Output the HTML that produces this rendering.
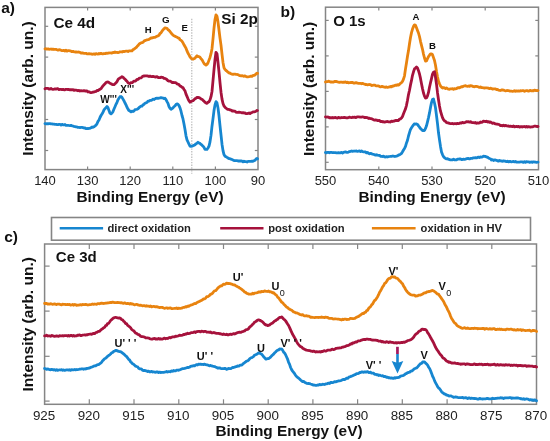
<!DOCTYPE html>
<html><head><meta charset="utf-8"><style>
html,body{margin:0;padding:0;background:#fff;}
svg{display:block;filter:blur(0.35px);}
text{font-family:"Liberation Sans", sans-serif;}
</style></head><body>
<svg width="550" height="441" viewBox="0 0 550 441">
<rect width="550" height="441" fill="#fff"/>
<rect x="45" y="7.4" width="213" height="162.2" fill="none" stroke="#858585" stroke-width="1.5"/><line x1="87.6" y1="169.6" x2="87.6" y2="166.4" stroke="#858585" stroke-width="1.2"/><line x1="87.6" y1="7.4" x2="87.6" y2="10.600000000000001" stroke="#858585" stroke-width="1.2"/><line x1="130.2" y1="169.6" x2="130.2" y2="166.4" stroke="#858585" stroke-width="1.2"/><line x1="130.2" y1="7.4" x2="130.2" y2="10.600000000000001" stroke="#858585" stroke-width="1.2"/><line x1="172.8" y1="169.6" x2="172.8" y2="166.4" stroke="#858585" stroke-width="1.2"/><line x1="172.8" y1="7.4" x2="172.8" y2="10.600000000000001" stroke="#858585" stroke-width="1.2"/><line x1="215.4" y1="169.6" x2="215.4" y2="166.4" stroke="#858585" stroke-width="1.2"/><line x1="215.4" y1="7.4" x2="215.4" y2="10.600000000000001" stroke="#858585" stroke-width="1.2"/><line x1="45" y1="26.3" x2="48.2" y2="26.3" stroke="#858585" stroke-width="1.2"/><line x1="258" y1="26.3" x2="254.8" y2="26.3" stroke="#858585" stroke-width="1.2"/><line x1="45" y1="57.1" x2="48.2" y2="57.1" stroke="#858585" stroke-width="1.2"/><line x1="258" y1="57.1" x2="254.8" y2="57.1" stroke="#858585" stroke-width="1.2"/><line x1="45" y1="88.3" x2="48.2" y2="88.3" stroke="#858585" stroke-width="1.2"/><line x1="258" y1="88.3" x2="254.8" y2="88.3" stroke="#858585" stroke-width="1.2"/><line x1="45" y1="119.5" x2="48.2" y2="119.5" stroke="#858585" stroke-width="1.2"/><line x1="258" y1="119.5" x2="254.8" y2="119.5" stroke="#858585" stroke-width="1.2"/><line x1="45" y1="150.5" x2="48.2" y2="150.5" stroke="#858585" stroke-width="1.2"/><line x1="258" y1="150.5" x2="254.8" y2="150.5" stroke="#858585" stroke-width="1.2"/><text x="45.0" y="185.3" font-size="13" font-weight="normal" text-anchor="middle" fill="#222" >140</text><text x="87.6" y="185.3" font-size="13" font-weight="normal" text-anchor="middle" fill="#222" >130</text><text x="130.2" y="185.3" font-size="13" font-weight="normal" text-anchor="middle" fill="#222" >120</text><text x="172.8" y="185.3" font-size="13" font-weight="normal" text-anchor="middle" fill="#222" >110</text><text x="215.4" y="185.3" font-size="13" font-weight="normal" text-anchor="middle" fill="#222" >100</text><text x="258.0" y="185.3" font-size="13" font-weight="normal" text-anchor="middle" fill="#222" >90</text><line x1="191.8" y1="18.8" x2="191.8" y2="173.8" stroke="#b4b4b4" stroke-width="1.1" stroke-dasharray="1.4,1.3"/><rect x="325.5" y="7.2" width="213.0" height="162.5" fill="none" stroke="#858585" stroke-width="1.5"/><line x1="378.8" y1="169.7" x2="378.8" y2="166.5" stroke="#858585" stroke-width="1.2"/><line x1="378.8" y1="7.2" x2="378.8" y2="10.4" stroke="#858585" stroke-width="1.2"/><line x1="432.0" y1="169.7" x2="432.0" y2="166.5" stroke="#858585" stroke-width="1.2"/><line x1="432.0" y1="7.2" x2="432.0" y2="10.4" stroke="#858585" stroke-width="1.2"/><line x1="485.2" y1="169.7" x2="485.2" y2="166.5" stroke="#858585" stroke-width="1.2"/><line x1="485.2" y1="7.2" x2="485.2" y2="10.4" stroke="#858585" stroke-width="1.2"/><line x1="325.5" y1="20.4" x2="328.7" y2="20.4" stroke="#858585" stroke-width="1.2"/><line x1="538.5" y1="20.4" x2="535.3" y2="20.4" stroke="#858585" stroke-width="1.2"/><line x1="325.5" y1="55.9" x2="328.7" y2="55.9" stroke="#858585" stroke-width="1.2"/><line x1="538.5" y1="55.9" x2="535.3" y2="55.9" stroke="#858585" stroke-width="1.2"/><line x1="325.5" y1="91.4" x2="328.7" y2="91.4" stroke="#858585" stroke-width="1.2"/><line x1="538.5" y1="91.4" x2="535.3" y2="91.4" stroke="#858585" stroke-width="1.2"/><line x1="325.5" y1="126.9" x2="328.7" y2="126.9" stroke="#858585" stroke-width="1.2"/><line x1="538.5" y1="126.9" x2="535.3" y2="126.9" stroke="#858585" stroke-width="1.2"/><line x1="325.5" y1="162.3" x2="328.7" y2="162.3" stroke="#858585" stroke-width="1.2"/><line x1="538.5" y1="162.3" x2="535.3" y2="162.3" stroke="#858585" stroke-width="1.2"/><text x="325.5" y="185.3" font-size="13" font-weight="normal" text-anchor="middle" fill="#222" >550</text><text x="378.75" y="185.3" font-size="13" font-weight="normal" text-anchor="middle" fill="#222" >540</text><text x="432.0" y="185.3" font-size="13" font-weight="normal" text-anchor="middle" fill="#222" >530</text><text x="485.25" y="185.3" font-size="13" font-weight="normal" text-anchor="middle" fill="#222" >520</text><text x="538.5" y="185.3" font-size="13" font-weight="normal" text-anchor="middle" fill="#222" >510</text><rect x="44.6" y="244" width="491.9" height="160.3" fill="none" stroke="#858585" stroke-width="1.5"/><line x1="89.3" y1="404.3" x2="89.3" y2="399.3" stroke="#858585" stroke-width="1.2"/><line x1="89.3" y1="244" x2="89.3" y2="249" stroke="#858585" stroke-width="1.2"/><line x1="134.0" y1="404.3" x2="134.0" y2="399.3" stroke="#858585" stroke-width="1.2"/><line x1="134.0" y1="244" x2="134.0" y2="249" stroke="#858585" stroke-width="1.2"/><line x1="178.8" y1="404.3" x2="178.8" y2="399.3" stroke="#858585" stroke-width="1.2"/><line x1="178.8" y1="244" x2="178.8" y2="249" stroke="#858585" stroke-width="1.2"/><line x1="223.5" y1="404.3" x2="223.5" y2="399.3" stroke="#858585" stroke-width="1.2"/><line x1="223.5" y1="244" x2="223.5" y2="249" stroke="#858585" stroke-width="1.2"/><line x1="268.2" y1="404.3" x2="268.2" y2="399.3" stroke="#858585" stroke-width="1.2"/><line x1="268.2" y1="244" x2="268.2" y2="249" stroke="#858585" stroke-width="1.2"/><line x1="312.9" y1="404.3" x2="312.9" y2="399.3" stroke="#858585" stroke-width="1.2"/><line x1="312.9" y1="244" x2="312.9" y2="249" stroke="#858585" stroke-width="1.2"/><line x1="357.6" y1="404.3" x2="357.6" y2="399.3" stroke="#858585" stroke-width="1.2"/><line x1="357.6" y1="244" x2="357.6" y2="249" stroke="#858585" stroke-width="1.2"/><line x1="402.3" y1="404.3" x2="402.3" y2="399.3" stroke="#858585" stroke-width="1.2"/><line x1="402.3" y1="244" x2="402.3" y2="249" stroke="#858585" stroke-width="1.2"/><line x1="447.1" y1="404.3" x2="447.1" y2="399.3" stroke="#858585" stroke-width="1.2"/><line x1="447.1" y1="244" x2="447.1" y2="249" stroke="#858585" stroke-width="1.2"/><line x1="491.8" y1="404.3" x2="491.8" y2="399.3" stroke="#858585" stroke-width="1.2"/><line x1="491.8" y1="244" x2="491.8" y2="249" stroke="#858585" stroke-width="1.2"/><line x1="44.6" y1="266.1" x2="49.6" y2="266.1" stroke="#858585" stroke-width="1.2"/><line x1="536.5" y1="266.1" x2="531.5" y2="266.1" stroke="#858585" stroke-width="1.2"/><line x1="44.6" y1="311.1" x2="49.6" y2="311.1" stroke="#858585" stroke-width="1.2"/><line x1="536.5" y1="311.1" x2="531.5" y2="311.1" stroke="#858585" stroke-width="1.2"/><line x1="44.6" y1="356.3" x2="49.6" y2="356.3" stroke="#858585" stroke-width="1.2"/><line x1="536.5" y1="356.3" x2="531.5" y2="356.3" stroke="#858585" stroke-width="1.2"/><line x1="44.6" y1="401.1" x2="49.6" y2="401.1" stroke="#858585" stroke-width="1.2"/><line x1="536.5" y1="401.1" x2="531.5" y2="401.1" stroke="#858585" stroke-width="1.2"/><text x="44.1" y="419.7" font-size="13.4" font-weight="normal" text-anchor="middle" fill="#222" >925</text><text x="88.81818181818181" y="419.7" font-size="13.4" font-weight="normal" text-anchor="middle" fill="#222" >920</text><text x="133.53636363636363" y="419.7" font-size="13.4" font-weight="normal" text-anchor="middle" fill="#222" >915</text><text x="178.25454545454545" y="419.7" font-size="13.4" font-weight="normal" text-anchor="middle" fill="#222" >910</text><text x="222.97272727272727" y="419.7" font-size="13.4" font-weight="normal" text-anchor="middle" fill="#222" >905</text><text x="267.6909090909091" y="419.7" font-size="13.4" font-weight="normal" text-anchor="middle" fill="#222" >900</text><text x="312.40909090909093" y="419.7" font-size="13.4" font-weight="normal" text-anchor="middle" fill="#222" >895</text><text x="357.1272727272727" y="419.7" font-size="13.4" font-weight="normal" text-anchor="middle" fill="#222" >890</text><text x="401.8454545454546" y="419.7" font-size="13.4" font-weight="normal" text-anchor="middle" fill="#222" >885</text><text x="446.56363636363636" y="419.7" font-size="13.4" font-weight="normal" text-anchor="middle" fill="#222" >880</text><text x="491.2818181818182" y="419.7" font-size="13.4" font-weight="normal" text-anchor="middle" fill="#222" >875</text><text x="536.0" y="419.7" font-size="13.4" font-weight="normal" text-anchor="middle" fill="#222" >870</text><rect x="51.5" y="217.5" width="479" height="22.7" fill="#fff" stroke="#858585" stroke-width="1.6"/><line x1="59.7" y1="228.3" x2="103.1" y2="228.3" stroke="#1686d0" stroke-width="2.6"/><text x="107.5" y="232.3" font-size="11.2" font-weight="bold" text-anchor="start" fill="#222" >direct oxidation</text><line x1="220.2" y1="228.3" x2="263.5" y2="228.3" stroke="#a6123c" stroke-width="2.6"/><text x="268.2" y="232.3" font-size="11.2" font-weight="bold" text-anchor="start" fill="#222" >post oxidation</text><line x1="371.9" y1="228.3" x2="415.6" y2="228.3" stroke="#e8830f" stroke-width="2.6"/><text x="420.6" y="232.3" font-size="11.2" font-weight="bold" text-anchor="start" fill="#222" >oxidation in HV</text><path d="M45.0 48.8L46.0 48.7L47.0 49.2L48.0 48.8L49.0 49.3L50.0 49.2L51.0 49.0L52.0 49.4L53.0 49.1L54.0 49.5L55.0 49.3L56.0 49.4L57.0 49.8L58.0 50.2L59.0 49.7L60.0 49.9L61.0 50.3L62.0 50.7L63.0 50.5L64.0 50.4L65.0 51.0L66.0 50.2L67.0 51.1L68.0 50.7L69.0 50.7L70.0 50.8L71.0 51.1L72.0 51.7L73.0 51.3L74.0 51.8L75.0 52.0L76.0 51.9L77.0 52.2L78.0 52.0L79.0 52.1L80.0 52.4L81.0 53.0L82.0 52.9L83.0 53.0L84.0 53.3L85.0 53.3L86.0 53.3L87.0 53.9L88.0 53.9L89.0 53.6L90.0 53.9L91.0 53.9L92.0 54.3L93.0 54.2L94.0 53.8L95.0 54.4L96.0 53.6L97.0 53.9L98.0 54.1L99.0 53.5L100.0 53.8L101.0 53.3L102.0 53.8L103.0 53.8L104.0 53.5L105.0 53.7L106.0 53.1L107.0 53.3L108.0 53.1L109.0 53.0L110.0 52.8L111.0 53.0L112.0 53.0L113.0 52.5L114.0 52.6L115.0 52.0L116.0 52.5L117.0 52.3L118.0 52.6L119.0 52.4L120.0 51.8L121.0 51.8L122.0 52.0L123.0 51.4L124.0 51.7L125.0 51.3L126.0 51.2L127.0 51.1L128.0 51.6L129.0 50.9L130.0 50.9L131.0 50.8L132.0 50.9L133.0 49.6L134.0 49.2L135.0 48.4L136.0 47.7L137.0 46.6L138.0 45.6L139.0 44.2L140.0 43.5L141.0 42.8L142.0 42.7L143.0 42.3L144.0 41.1L145.0 40.6L146.0 40.2L147.0 39.8L148.0 39.6L149.0 39.3L150.0 38.6L151.0 38.0L152.0 38.0L153.0 37.6L154.0 37.4L155.0 37.4L156.0 36.8L157.0 36.3L158.0 35.9L159.0 35.3L160.0 33.5L161.0 32.8L162.0 31.2L163.0 29.9L164.0 28.8L165.0 27.9L166.0 28.1L167.0 28.3L168.0 29.7L169.0 30.3L170.0 31.5L171.0 32.8L172.0 34.0L173.0 35.1L174.0 35.7L175.0 36.2L176.0 36.8L177.0 37.2L178.0 37.9L179.0 38.1L180.0 39.6L181.0 40.3L182.0 41.2L183.0 42.9L184.0 44.8L185.0 46.6L186.0 48.2L187.0 50.9L188.0 53.2L189.0 54.9L190.0 56.9L191.0 58.1L192.0 59.0L193.0 59.2L194.0 58.6L195.0 58.2L196.0 56.7L197.0 55.8L198.0 56.5L199.0 56.6L200.0 57.2L201.0 58.7L202.0 59.7L203.0 61.6L204.0 63.4L205.0 64.4L206.0 65.1L207.0 64.4L208.0 62.9L209.0 60.1L210.0 57.4L211.0 53.7L212.0 48.7L213.0 38.9L214.0 28.2L215.0 19.5L216.0 14.9L217.0 16.3L218.0 22.1L219.0 30.0L220.0 38.1L221.0 45.1L222.0 54.1L223.0 62.4L224.0 67.8L225.0 69.4L226.0 70.5L227.0 71.2L228.0 72.2L229.0 73.0L230.0 73.0L231.0 73.8L232.0 74.2L233.0 74.4L234.0 74.1L235.0 74.1L236.0 74.3L237.0 74.5L238.0 74.6L239.0 75.2L240.0 75.7L241.0 75.8L242.0 75.7L243.0 76.0L244.0 76.3L245.0 75.8L246.0 76.5L247.0 76.8L248.0 76.8L249.0 76.7L250.0 76.5L251.0 76.1L252.0 76.3L253.0 75.5L254.0 75.4L255.0 75.0L256.0 73.9L257.0 73.2L257.5 73.4" fill="none" stroke="#e8830f" stroke-width="2.8" stroke-linejoin="round" stroke-linecap="round"/><path d="M45.0 88.8L46.0 88.3L47.0 88.3L48.0 88.4L49.0 89.1L50.0 89.0L51.0 88.5L52.0 89.1L53.0 89.3L54.0 89.1L55.0 88.8L56.0 89.1L57.0 88.7L58.0 88.7L59.0 89.6L60.0 89.4L61.0 89.3L62.0 89.7L63.0 89.3L64.0 89.8L65.0 89.8L66.0 89.3L67.0 89.4L68.0 89.5L69.0 89.5L70.0 89.9L71.0 89.6L72.0 89.9L73.0 89.7L74.0 90.4L75.0 90.0L76.0 90.2L77.0 90.4L78.0 90.8L79.0 90.4L80.0 91.0L81.0 90.7L82.0 90.8L83.0 90.9L84.0 90.6L85.0 91.0L86.0 90.9L87.0 91.0L88.0 92.0L89.0 91.8L90.0 92.3L91.0 92.6L92.0 92.4L93.0 92.1L94.0 92.0L95.0 91.7L96.0 91.5L97.0 90.5L98.0 90.5L99.0 89.8L100.0 89.2L101.0 88.6L102.0 87.2L103.0 85.9L104.0 84.8L105.0 83.8L106.0 82.5L107.0 82.1L108.0 82.0L109.0 82.5L110.0 83.3L111.0 83.7L112.0 84.3L113.0 84.6L114.0 84.7L115.0 83.8L116.0 82.8L117.0 81.6L118.0 79.6L119.0 78.6L120.0 78.0L121.0 77.4L122.0 76.7L123.0 77.2L124.0 78.4L125.0 79.1L126.0 80.4L127.0 81.3L128.0 82.8L129.0 83.4L130.0 83.6L131.0 82.6L132.0 82.7L133.0 82.1L134.0 81.1L135.0 81.2L136.0 80.6L137.0 79.3L138.0 79.4L139.0 78.4L140.0 78.0L141.0 77.8L142.0 77.1L143.0 76.1L144.0 76.0L145.0 75.9L146.0 75.8L147.0 75.8L148.0 76.1L149.0 76.6L150.0 76.1L151.0 76.6L152.0 76.6L153.0 76.3L154.0 76.7L155.0 77.0L156.0 77.0L157.0 76.6L158.0 77.5L159.0 77.5L160.0 77.7L161.0 77.1L162.0 77.4L163.0 77.4L164.0 78.4L165.0 78.4L166.0 78.9L167.0 79.7L168.0 80.8L169.0 81.2L170.0 81.2L171.0 81.5L172.0 82.5L173.0 82.4L174.0 82.7L175.0 82.5L176.0 82.8L177.0 83.9L178.0 84.2L179.0 84.6L180.0 86.0L181.0 86.4L182.0 87.3L183.0 87.6L184.0 89.5L185.0 90.8L186.0 94.1L187.0 96.4L188.0 98.8L189.0 100.8L190.0 102.2L191.0 101.5L192.0 101.0L193.0 100.7L194.0 99.7L195.0 98.8L196.0 98.2L197.0 97.5L198.0 97.4L199.0 97.6L200.0 98.0L201.0 99.0L202.0 99.3L203.0 100.3L204.0 101.1L205.0 102.3L206.0 102.9L207.0 103.4L208.0 102.3L209.0 101.7L210.0 99.9L211.0 96.7L212.0 91.5L213.0 80.7L214.0 69.6L215.0 59.7L216.0 52.3L217.0 53.7L218.0 62.5L219.0 71.8L220.0 82.6L221.0 92.2L222.0 99.1L223.0 103.5L224.0 106.0L225.0 107.2L226.0 108.2L227.0 108.9L228.0 109.4L229.0 109.4L230.0 109.9L231.0 110.1L232.0 111.1L233.0 110.9L234.0 111.1L235.0 111.2L236.0 112.1L237.0 112.3L238.0 112.3L239.0 112.1L240.0 112.3L241.0 112.5L242.0 112.8L243.0 112.6L244.0 113.0L245.0 112.9L246.0 113.6L247.0 113.7L248.0 113.3L249.0 113.0L250.0 113.6L251.0 112.8L252.0 112.5L253.0 111.9L254.0 111.9L255.0 111.6L256.0 111.2L257.0 110.5L257.5 110.6" fill="none" stroke="#a6123c" stroke-width="2.8" stroke-linejoin="round" stroke-linecap="round"/><path d="M45.0 123.6L46.0 123.8L47.0 123.6L48.0 123.9L49.0 123.6L50.0 123.6L51.0 123.9L52.0 123.8L53.0 124.2L54.0 124.2L55.0 124.4L56.0 124.4L57.0 124.5L58.0 124.7L59.0 124.3L60.0 124.4L61.0 125.0L62.0 124.3L63.0 124.9L64.0 124.9L65.0 124.5L66.0 125.3L67.0 125.4L68.0 125.3L69.0 125.5L70.0 125.7L71.0 125.3L72.0 125.8L73.0 126.0L74.0 126.5L75.0 126.7L76.0 126.9L77.0 126.9L78.0 127.4L79.0 127.4L80.0 127.6L81.0 127.4L82.0 127.4L83.0 127.6L84.0 128.0L85.0 127.9L86.0 128.7L87.0 128.5L88.0 128.6L89.0 128.4L90.0 128.3L91.0 127.8L92.0 127.0L93.0 127.3L94.0 126.8L95.0 126.0L96.0 125.1L97.0 123.8L98.0 121.4L99.0 120.0L100.0 117.5L101.0 115.5L102.0 113.9L103.0 112.3L104.0 109.9L105.0 108.7L106.0 107.6L107.0 106.5L108.0 107.7L109.0 110.6L110.0 113.2L111.0 113.9L112.0 113.0L113.0 111.6L114.0 109.0L115.0 106.7L116.0 104.3L117.0 102.3L118.0 99.7L119.0 98.2L120.0 96.7L121.0 96.5L122.0 97.4L123.0 99.1L124.0 100.9L125.0 103.0L126.0 104.9L127.0 107.3L128.0 109.1L129.0 110.6L130.0 111.1L131.0 111.9L132.0 111.1L133.0 111.5L134.0 111.0L135.0 109.7L136.0 109.5L137.0 109.3L138.0 108.8L139.0 107.7L140.0 106.9L141.0 106.2L142.0 106.2L143.0 104.8L144.0 104.4L145.0 103.2L146.0 102.8L147.0 102.5L148.0 101.1L149.0 101.1L150.0 100.4L151.0 100.4L152.0 99.9L153.0 99.2L154.0 99.5L155.0 98.9L156.0 98.3L157.0 98.1L158.0 98.3L159.0 98.1L160.0 97.9L161.0 97.6L162.0 97.8L163.0 98.0L164.0 98.7L165.0 98.2L166.0 99.6L167.0 101.6L168.0 103.4L169.0 106.6L170.0 108.3L171.0 109.3L172.0 108.6L173.0 107.8L174.0 106.6L175.0 105.9L176.0 104.5L177.0 103.8L178.0 104.2L179.0 105.6L180.0 107.9L181.0 111.2L182.0 115.5L183.0 118.9L184.0 123.9L185.0 129.6L186.0 135.8L187.0 139.8L188.0 142.0L189.0 144.2L190.0 146.1L191.0 146.4L192.0 146.2L193.0 145.7L194.0 145.4L195.0 144.8L196.0 143.7L197.0 143.3L198.0 142.3L199.0 143.0L200.0 143.4L201.0 144.4L202.0 145.2L203.0 146.2L204.0 147.4L205.0 149.4L206.0 149.4L207.0 149.3L208.0 148.0L209.0 146.1L210.0 141.9L211.0 135.4L212.0 126.2L213.0 118.6L214.0 110.6L215.0 104.9L216.0 101.6L217.0 102.9L218.0 107.9L219.0 115.8L220.0 125.7L221.0 134.8L222.0 144.2L223.0 150.6L224.0 154.6L225.0 156.2L226.0 156.7L227.0 157.4L228.0 158.0L229.0 158.7L230.0 158.7L231.0 159.2L232.0 159.5L233.0 160.1L234.0 160.6L235.0 160.7L236.0 160.6L237.0 160.7L238.0 161.0L239.0 161.0L240.0 161.0L241.0 160.9L242.0 161.2L243.0 161.9L244.0 161.2L245.0 161.6L246.0 161.7L247.0 162.0L248.0 161.4L249.0 161.4L250.0 161.4L251.0 161.4L252.0 161.2L253.0 161.3L254.0 160.8L255.0 160.3L256.0 159.0L257.0 158.4L257.5 158.8" fill="none" stroke="#1686d0" stroke-width="2.8" stroke-linejoin="round" stroke-linecap="round"/><path d="M325.5 82.0L326.5 81.6L327.5 81.7L328.5 81.2L329.5 81.5L330.5 82.0L331.5 82.0L332.5 82.0L333.5 82.2L334.5 81.5L335.5 81.5L336.5 81.5L337.5 81.9L338.5 82.1L339.5 82.4L340.5 82.2L341.5 82.2L342.5 82.4L343.5 82.2L344.5 82.3L345.5 81.9L346.5 82.6L347.5 82.2L348.5 82.9L349.5 82.7L350.5 82.5L351.5 82.4L352.5 82.5L353.5 83.0L354.5 83.1L355.5 82.7L356.5 82.7L357.5 83.2L358.5 83.4L359.5 83.3L360.5 83.3L361.5 83.8L362.5 83.4L363.5 83.8L364.5 84.0L365.5 84.6L366.5 84.5L367.5 84.8L368.5 84.6L369.5 84.5L370.5 84.7L371.5 85.5L372.5 85.4L373.5 85.2L374.5 85.1L375.5 85.6L376.5 85.9L377.5 85.9L378.5 85.9L379.5 86.5L380.5 86.9L381.5 86.4L382.5 86.4L383.5 86.9L384.5 87.1L385.5 87.3L386.5 86.9L387.5 87.4L388.5 87.2L389.5 86.9L390.5 86.4L391.5 86.9L392.5 86.0L393.5 86.2L394.5 85.5L395.5 85.2L396.5 85.4L397.5 84.7L398.5 85.1L399.5 84.3L400.5 83.3L401.5 82.6L402.5 81.4L403.5 79.2L404.5 75.8L405.5 68.9L406.5 62.8L407.5 56.3L408.5 50.6L409.5 43.7L410.5 37.5L411.5 32.6L412.5 29.1L413.5 26.4L414.5 24.9L415.5 25.3L416.5 27.7L417.5 30.4L418.5 33.0L419.5 36.6L420.5 41.3L421.5 45.3L422.5 49.3L423.5 54.1L424.5 58.0L425.5 61.1L426.5 60.9L427.5 58.7L428.5 56.6L429.5 55.2L430.5 53.9L431.5 53.9L432.5 54.7L433.5 57.6L434.5 60.5L435.5 65.2L436.5 71.5L437.5 76.8L438.5 81.2L439.5 83.7L440.5 86.0L441.5 87.1L442.5 88.0L443.5 87.6L444.5 87.9L445.5 88.6L446.5 88.0L447.5 88.6L448.5 89.2L449.5 89.3L450.5 88.8L451.5 88.8L452.5 88.7L453.5 89.4L454.5 88.6L455.5 88.8L456.5 88.7L457.5 87.9L458.5 87.6L459.5 87.9L460.5 87.3L461.5 86.7L462.5 86.8L463.5 86.2L464.5 86.0L465.5 85.6L466.5 86.2L467.5 86.3L468.5 86.0L469.5 86.4L470.5 85.6L471.5 85.9L472.5 86.2L473.5 86.7L474.5 86.8L475.5 86.4L476.5 86.4L477.5 86.7L478.5 86.9L479.5 87.4L480.5 86.9L481.5 87.6L482.5 87.7L483.5 87.9L484.5 88.0L485.5 87.9L486.5 87.8L487.5 88.0L488.5 88.1L489.5 88.7L490.5 88.2L491.5 88.5L492.5 89.1L493.5 88.8L494.5 88.8L495.5 88.9L496.5 89.6L497.5 89.5L498.5 90.2L499.5 90.3L500.5 90.5L501.5 90.0L502.5 89.9L503.5 90.1L504.5 90.5L505.5 90.8L506.5 90.6L507.5 90.5L508.5 90.7L509.5 91.0L510.5 91.1L511.5 91.2L512.5 91.3L513.5 91.1L514.5 90.7L515.5 91.3L516.5 90.8L517.5 91.1L518.5 90.9L519.5 91.2L520.5 90.7L521.5 90.8L522.5 90.7L523.5 90.6L524.5 91.3L525.5 90.9L526.5 90.7L527.5 90.7L528.5 91.2L529.5 90.7L530.5 90.4L531.5 90.9L532.5 90.7L533.5 90.9L534.5 90.1L535.5 90.3L536.5 90.6L537.5 90.5L538.0 90.6" fill="none" stroke="#e8830f" stroke-width="2.8" stroke-linejoin="round" stroke-linecap="round"/><path d="M325.5 116.9L326.5 117.2L327.5 117.0L328.5 117.1L329.5 117.9L330.5 117.6L331.5 117.9L332.5 117.5L333.5 117.9L334.5 117.6L335.5 117.4L336.5 117.9L337.5 118.1L338.5 117.4L339.5 117.8L340.5 117.9L341.5 117.5L342.5 117.7L343.5 117.5L344.5 117.5L345.5 117.6L346.5 117.9L347.5 117.9L348.5 117.5L349.5 117.2L350.5 117.5L351.5 117.7L352.5 117.2L353.5 117.3L354.5 117.1L355.5 117.6L356.5 117.3L357.5 116.8L358.5 116.8L359.5 117.0L360.5 117.1L361.5 117.2L362.5 116.8L363.5 117.0L364.5 117.6L365.5 117.4L366.5 117.5L367.5 117.7L368.5 118.5L369.5 118.2L370.5 118.7L371.5 118.7L372.5 119.1L373.5 119.7L374.5 120.1L375.5 119.8L376.5 120.0L377.5 120.7L378.5 120.5L379.5 120.5L380.5 121.6L381.5 121.3L382.5 121.9L383.5 121.6L384.5 122.2L385.5 121.9L386.5 121.6L387.5 121.5L388.5 121.9L389.5 121.9L390.5 122.0L391.5 121.1L392.5 121.5L393.5 121.1L394.5 121.0L395.5 120.5L396.5 120.5L397.5 120.5L398.5 120.5L399.5 119.1L400.5 118.8L401.5 118.0L402.5 116.4L403.5 113.7L404.5 111.3L405.5 108.9L406.5 105.3L407.5 100.3L408.5 94.6L409.5 90.3L410.5 84.9L411.5 80.4L412.5 75.3L413.5 71.8L414.5 68.9L415.5 68.0L416.5 67.0L417.5 68.0L418.5 70.7L419.5 74.0L420.5 78.4L421.5 83.7L422.5 88.6L423.5 93.0L424.5 96.1L425.5 98.0L426.5 97.9L427.5 95.8L428.5 92.4L429.5 87.2L430.5 82.7L431.5 78.6L432.5 74.1L433.5 72.2L434.5 71.7L435.5 77.3L436.5 84.2L437.5 92.7L438.5 99.8L439.5 106.0L440.5 111.2L441.5 114.5L442.5 117.6L443.5 119.7L444.5 120.9L445.5 121.3L446.5 122.5L447.5 122.9L448.5 122.8L449.5 123.5L450.5 123.7L451.5 123.6L452.5 123.5L453.5 123.8L454.5 123.6L455.5 123.6L456.5 123.8L457.5 123.4L458.5 123.6L459.5 123.4L460.5 122.8L461.5 123.1L462.5 122.4L463.5 122.8L464.5 122.6L465.5 122.2L466.5 121.6L467.5 121.9L468.5 121.7L469.5 122.2L470.5 121.6L471.5 122.4L472.5 122.7L473.5 122.7L474.5 122.9L475.5 122.5L476.5 123.3L477.5 122.9L478.5 123.2L479.5 122.9L480.5 122.0L481.5 122.3L482.5 122.1L483.5 121.1L484.5 121.3L485.5 121.6L486.5 121.2L487.5 122.0L488.5 121.6L489.5 122.4L490.5 122.0L491.5 122.6L492.5 123.3L493.5 123.0L494.5 123.4L495.5 123.9L496.5 124.1L497.5 124.1L498.5 124.5L499.5 124.7L500.5 125.6L501.5 125.5L502.5 125.8L503.5 125.2L504.5 125.9L505.5 125.4L506.5 125.8L507.5 126.0L508.5 125.9L509.5 126.4L510.5 126.2L511.5 126.3L512.5 126.6L513.5 126.0L514.5 126.9L515.5 126.6L516.5 126.4L517.5 126.8L518.5 126.4L519.5 127.1L520.5 126.7L521.5 126.6L522.5 127.0L523.5 126.7L524.5 126.5L525.5 127.0L526.5 126.4L527.5 127.1L528.5 126.6L529.5 126.9L530.5 127.2L531.5 126.8L532.5 126.9L533.5 126.5L534.5 126.2L535.5 126.2L536.5 126.3L537.5 126.6L538.0 126.4" fill="none" stroke="#a6123c" stroke-width="2.8" stroke-linejoin="round" stroke-linecap="round"/><path d="M325.5 152.5L326.5 152.9L327.5 152.3L328.5 152.4L329.5 152.8L330.5 152.3L331.5 152.3L332.5 152.7L333.5 152.5L334.5 152.7L335.5 152.6L336.5 152.9L337.5 152.9L338.5 152.6L339.5 152.9L340.5 152.8L341.5 152.4L342.5 153.0L343.5 152.3L344.5 152.1L345.5 151.9L346.5 152.3L347.5 152.3L348.5 152.1L349.5 151.6L350.5 151.3L351.5 151.0L352.5 151.4L353.5 151.2L354.5 151.0L355.5 151.2L356.5 150.9L357.5 151.4L358.5 151.2L359.5 150.9L360.5 151.6L361.5 151.0L362.5 151.7L363.5 151.8L364.5 151.9L365.5 152.0L366.5 152.9L367.5 152.5L368.5 153.2L369.5 153.8L370.5 153.3L371.5 153.6L372.5 154.2L373.5 154.3L374.5 154.7L375.5 155.1L376.5 154.7L377.5 155.1L378.5 155.3L379.5 155.3L380.5 156.3L381.5 156.4L382.5 156.5L383.5 156.1L384.5 156.9L385.5 157.0L386.5 156.7L387.5 157.0L388.5 156.7L389.5 156.5L390.5 156.3L391.5 156.3L392.5 156.0L393.5 156.2L394.5 156.5L395.5 156.3L396.5 156.2L397.5 155.8L398.5 155.0L399.5 154.9L400.5 154.2L401.5 153.4L402.5 151.8L403.5 150.0L404.5 148.4L405.5 146.4L406.5 142.9L407.5 140.2L408.5 136.0L409.5 132.6L410.5 129.4L411.5 127.8L412.5 126.3L413.5 124.9L414.5 123.8L415.5 124.2L416.5 123.9L417.5 124.4L418.5 125.9L419.5 127.1L420.5 128.6L421.5 129.6L422.5 130.6L423.5 130.5L424.5 130.5L425.5 128.4L426.5 125.8L427.5 121.8L428.5 117.6L429.5 112.9L430.5 107.6L431.5 102.6L432.5 99.5L433.5 99.0L434.5 103.0L435.5 107.8L436.5 115.6L437.5 123.6L438.5 132.8L439.5 139.9L440.5 146.4L441.5 151.9L442.5 154.6L443.5 156.6L444.5 157.7L445.5 158.5L446.5 158.9L447.5 158.6L448.5 159.4L449.5 159.4L450.5 159.9L451.5 159.9L452.5 159.9L453.5 159.2L454.5 159.8L455.5 159.9L456.5 159.9L457.5 159.1L458.5 159.1L459.5 159.0L460.5 158.9L461.5 159.5L462.5 159.5L463.5 159.2L464.5 159.4L465.5 159.1L466.5 158.7L467.5 158.5L468.5 158.4L469.5 158.9L470.5 158.4L471.5 158.4L472.5 158.3L473.5 157.8L474.5 157.9L475.5 157.7L476.5 157.9L477.5 157.4L478.5 157.1L479.5 157.5L480.5 156.9L481.5 157.1L482.5 156.8L483.5 156.1L484.5 156.4L485.5 156.5L486.5 157.0L487.5 157.1L488.5 158.0L489.5 158.5L490.5 158.8L491.5 160.0L492.5 159.7L493.5 160.5L494.5 160.0L495.5 160.0L496.5 160.3L497.5 160.9L498.5 161.2L499.5 160.4L500.5 160.9L501.5 161.0L502.5 161.3L503.5 160.9L504.5 161.2L505.5 161.2L506.5 161.7L507.5 161.2L508.5 161.9L509.5 161.4L510.5 161.4L511.5 161.9L512.5 161.7L513.5 161.4L514.5 161.9L515.5 161.5L516.5 162.2L517.5 162.1L518.5 162.2L519.5 162.1L520.5 161.9L521.5 161.9L522.5 161.9L523.5 162.4L524.5 161.7L525.5 162.4L526.5 161.6L527.5 161.8L528.5 161.8L529.5 162.4L530.5 162.1L531.5 162.0L532.5 162.4L533.5 161.8L534.5 162.0L535.5 162.1L536.5 162.3L537.5 162.2L538.0 162.1" fill="none" stroke="#1686d0" stroke-width="2.8" stroke-linejoin="round" stroke-linecap="round"/><path d="M44.6 303.5L45.6 303.5L46.6 303.4L47.6 304.1L48.6 304.0L49.6 304.1L50.6 303.7L51.6 304.0L52.6 304.3L53.6 304.2L54.6 303.8L55.6 304.2L56.6 304.6L57.6 304.1L58.6 304.1L59.6 304.2L60.6 304.6L61.6 304.8L62.6 304.2L63.6 304.3L64.6 304.4L65.6 304.5L66.6 304.7L67.6 304.4L68.6 304.6L69.6 304.5L70.6 305.2L71.6 305.0L72.6 304.5L73.6 305.2L74.6 304.5L75.6 304.7L76.6 305.3L77.6 305.1L78.6 305.1L79.6 304.8L80.6 304.6L81.6 305.0L82.6 304.5L83.6 304.6L84.6 304.7L85.6 304.4L86.6 304.7L87.6 305.0L88.6 304.8L89.6 304.6L90.6 304.6L91.6 304.4L92.6 304.0L93.6 304.3L94.6 304.0L95.6 304.2L96.6 304.3L97.6 303.7L98.6 303.7L99.6 303.8L100.6 303.4L101.6 303.1L102.6 303.4L103.6 303.5L104.6 303.3L105.6 303.1L106.6 303.2L107.6 302.9L108.6 302.8L109.6 302.6L110.6 302.4L111.6 302.6L112.6 302.1L113.6 302.4L114.6 302.7L115.6 302.7L116.6 302.6L117.6 302.3L118.6 302.6L119.6 302.6L120.6 302.9L121.6 302.7L122.6 303.1L123.6 303.4L124.6 302.8L125.6 303.4L126.6 303.6L127.6 303.3L128.6 303.6L129.6 304.1L130.6 303.4L131.6 304.0L132.6 303.8L133.6 304.5L134.6 304.8L135.6 304.5L136.6 304.3L137.6 304.9L138.6 305.0L139.6 305.3L140.6 305.2L141.6 305.5L142.6 305.8L143.6 305.6L144.6 305.6L145.6 306.2L146.6 305.7L147.6 306.2L148.6 306.1L149.6 306.5L150.6 306.0L151.6 306.9L152.6 306.5L153.6 306.3L154.6 306.6L155.6 306.9L156.6 306.6L157.6 307.1L158.6 307.2L159.6 307.6L160.6 307.4L161.6 307.4L162.6 307.5L163.6 308.0L164.6 308.3L165.6 308.0L166.6 307.8L167.6 308.4L168.6 308.2L169.6 308.0L170.6 308.0L171.6 308.6L172.6 308.7L173.6 308.5L174.6 308.3L175.6 308.4L176.6 308.0L177.6 308.7L178.6 308.1L179.6 308.3L180.6 308.3L181.6 308.2L182.6 307.7L183.6 307.3L184.6 307.3L185.6 306.6L186.6 307.0L187.6 306.2L188.6 306.4L189.6 305.5L190.6 305.3L191.6 304.8L192.6 304.6L193.6 304.0L194.6 303.5L195.6 303.7L196.6 302.8L197.6 302.3L198.6 301.8L199.6 301.4L200.6 300.8L201.6 300.4L202.6 299.8L203.6 298.9L204.6 298.8L205.6 298.1L206.6 296.7L207.6 296.7L208.6 296.1L209.6 295.4L210.6 294.1L211.6 294.0L212.6 293.1L213.6 291.7L214.6 290.8L215.6 290.7L216.6 289.6L217.6 288.3L218.6 287.4L219.6 286.6L220.6 286.0L221.6 285.9L222.6 284.9L223.6 284.2L224.6 284.4L225.6 284.0L226.6 283.1L227.6 283.6L228.6 283.3L229.6 283.6L230.6 283.7L231.6 284.2L232.6 284.4L233.6 284.9L234.6 284.8L235.6 285.7L236.6 286.1L237.6 286.8L238.6 287.0L239.6 288.1L240.6 288.6L241.6 289.2L242.6 290.1L243.6 290.9L244.6 292.0L245.6 292.4L246.6 293.3L247.6 293.5L248.6 294.1L249.6 294.1L250.6 294.1L251.6 294.2L252.6 293.2L253.6 293.8L254.6 293.2L255.6 293.0L256.6 292.8L257.6 292.7L258.6 292.0L259.6 291.9L260.6 292.2L261.6 291.3L262.6 291.6L263.6 291.5L264.6 290.9L265.6 291.3L266.6 291.3L267.6 291.5L268.6 291.0L269.6 291.8L270.6 291.7L271.6 292.1L272.6 292.9L273.6 292.7L274.6 293.9L275.6 294.7L276.6 295.4L277.6 297.1L278.6 297.9L279.6 299.3L280.6 300.6L281.6 302.1L282.6 302.7L283.6 303.9L284.6 304.9L285.6 306.0L286.6 307.1L287.6 307.5L288.6 308.7L289.6 309.1L290.6 309.8L291.6 310.2L292.6 311.0L293.6 312.0L294.6 312.2L295.6 312.9L296.6 312.9L297.6 313.3L298.6 313.7L299.6 314.3L300.6 314.6L301.6 315.0L302.6 314.6L303.6 315.5L304.6 315.9L305.6 315.9L306.6 315.7L307.6 316.1L308.6 316.1L309.6 316.5L310.6 317.3L311.6 317.2L312.6 317.3L313.6 317.5L314.6 317.7L315.6 317.4L316.6 317.4L317.6 317.4L318.6 317.5L319.6 317.3L320.6 317.4L321.6 317.0L322.6 317.4L323.6 317.3L324.6 317.6L325.6 317.1L326.6 317.3L327.6 317.3L328.6 318.1L329.6 318.4L330.6 318.4L331.6 318.3L332.6 318.8L333.6 319.0L334.6 318.9L335.6 318.8L336.6 319.0L337.6 319.2L338.6 319.2L339.6 319.4L340.6 319.7L341.6 320.0L342.6 319.2L343.6 319.6L344.6 319.1L345.6 319.1L346.6 319.6L347.6 319.3L348.6 319.4L349.6 318.9L350.6 318.3L351.6 318.5L352.6 318.6L353.6 318.7L354.6 318.5L355.6 317.8L356.6 317.3L357.6 316.6L358.6 316.6L359.6 315.6L360.6 315.0L361.6 314.2L362.6 313.5L363.6 313.5L364.6 312.3L365.6 312.3L366.6 310.6L367.6 310.3L368.6 308.5L369.6 307.3L370.6 306.6L371.6 304.9L372.6 304.0L373.6 302.1L374.6 300.5L375.6 299.8L376.6 298.2L377.6 296.7L378.6 294.7L379.6 292.2L380.6 290.7L381.6 288.9L382.6 286.8L383.6 285.6L384.6 283.5L385.6 282.9L386.6 281.5L387.6 279.7L388.6 278.7L389.6 278.4L390.6 277.9L391.6 276.7L392.6 276.7L393.6 277.1L394.6 276.8L395.6 277.9L396.6 278.2L397.6 278.5L398.6 279.7L399.6 280.8L400.6 281.6L401.6 283.0L402.6 283.9L403.6 286.1L404.6 287.5L405.6 289.5L406.6 291.0L407.6 292.2L408.6 293.1L409.6 294.0L410.6 294.7L411.6 295.0L412.6 295.2L413.6 295.2L414.6 295.2L415.6 296.1L416.6 295.8L417.6 295.8L418.6 295.1L419.6 295.1L420.6 295.1L421.6 294.6L422.6 294.0L423.6 293.3L424.6 292.9L425.6 292.9L426.6 292.0L427.6 291.9L428.6 291.5L429.6 291.5L430.6 291.2L431.6 290.6L432.6 290.4L433.6 290.9L434.6 291.6L435.6 292.3L436.6 293.3L437.6 294.1L438.6 294.2L439.6 295.9L440.6 297.1L441.6 298.7L442.6 300.0L443.6 301.5L444.6 303.7L445.6 305.5L446.6 307.2L447.6 309.6L448.6 311.4L449.6 313.5L450.6 316.2L451.6 318.5L452.6 319.8L453.6 321.7L454.6 323.0L455.6 323.5L456.6 324.9L457.6 325.9L458.6 326.5L459.6 327.0L460.6 327.5L461.6 328.2L462.6 328.3L463.6 328.0L464.6 327.7L465.6 328.4L466.6 328.4L467.6 328.0L468.6 328.4L469.6 328.7L470.6 328.7L471.6 328.4L472.6 328.4L473.6 328.5L474.6 328.2L475.6 328.3L476.6 328.3L477.6 328.8L478.6 328.5L479.6 328.7L480.6 328.6L481.6 328.7L482.6 328.4L483.6 328.4L484.6 329.3L485.6 328.7L486.6 328.5L487.6 329.0L488.6 329.2L489.6 328.6L490.6 329.1L491.6 328.9L492.6 329.1L493.6 328.6L494.6 328.7L495.6 329.6L496.6 329.5L497.6 329.2L498.6 329.3L499.6 329.0L500.6 329.5L501.6 329.2L502.6 329.7L503.6 329.6L504.6 329.7L505.6 329.8L506.6 329.2L507.6 329.1L508.6 329.3L509.6 329.3L510.6 329.2L511.6 329.2L512.6 329.7L513.6 330.0L514.6 329.7L515.6 330.2L516.6 330.2L517.6 329.5L518.6 330.0L519.6 329.8L520.6 329.6L521.6 330.5L522.6 329.9L523.6 330.2L524.6 330.3L525.6 330.7L526.6 330.5L527.6 330.3L528.6 330.4L529.6 330.2L530.6 331.0L531.6 331.1L532.6 330.5L533.6 330.4L534.6 330.6L535.6 330.8L536.5 331.4" fill="none" stroke="#e8830f" stroke-width="2.8" stroke-linejoin="round" stroke-linecap="round"/><path d="M44.6 335.9L45.6 335.9L46.6 335.2L47.6 336.0L48.6 335.9L49.6 335.9L50.6 336.3L51.6 335.5L52.6 335.6L53.6 336.2L54.6 336.4L55.6 336.2L56.6 335.8L57.6 336.1L58.6 336.3L59.6 335.7L60.6 335.9L61.6 335.8L62.6 335.7L63.6 336.0L64.6 335.7L65.6 335.7L66.6 335.6L67.6 336.1L68.6 335.4L69.6 336.0L70.6 335.5L71.6 335.4L72.6 336.1L73.6 335.4L74.6 336.0L75.6 335.9L76.6 335.9L77.6 335.1L78.6 335.3L79.6 334.9L80.6 335.6L81.6 335.5L82.6 335.2L83.6 335.0L84.6 334.8L85.6 335.1L86.6 334.7L87.6 334.8L88.6 334.3L89.6 334.2L90.6 334.0L91.6 334.3L92.6 333.9L93.6 333.3L94.6 333.6L95.6 332.7L96.6 332.5L97.6 331.8L98.6 331.4L99.6 331.3L100.6 330.1L101.6 329.3L102.6 328.8L103.6 327.8L104.6 327.4L105.6 325.7L106.6 325.4L107.6 323.5L108.6 323.3L109.6 322.0L110.6 320.5L111.6 319.7L112.6 318.7L113.6 318.0L114.6 317.5L115.6 317.3L116.6 317.7L117.6 317.9L118.6 318.1L119.6 317.8L120.6 318.5L121.6 319.7L122.6 319.8L123.6 321.3L124.6 321.9L125.6 323.5L126.6 323.6L127.6 325.4L128.6 326.0L129.6 326.8L130.6 327.7L131.6 329.4L132.6 330.1L133.6 330.7L134.6 331.8L135.6 333.1L136.6 333.3L137.6 334.3L138.6 334.5L139.6 335.2L140.6 336.3L141.6 336.7L142.6 336.6L143.6 336.8L144.6 337.0L145.6 337.8L146.6 337.9L147.6 337.9L148.6 338.1L149.6 338.6L150.6 338.9L151.6 339.1L152.6 339.0L153.6 338.6L154.6 338.5L155.6 339.2L156.6 338.9L157.6 339.1L158.6 338.5L159.6 339.2L160.6 338.7L161.6 339.1L162.6 339.1L163.6 338.6L164.6 338.1L165.6 338.8L166.6 338.3L167.6 338.5L168.6 337.8L169.6 337.5L170.6 337.9L171.6 337.3L172.6 336.9L173.6 336.9L174.6 336.9L175.6 336.1L176.6 336.3L177.6 336.0L178.6 335.8L179.6 335.2L180.6 335.5L181.6 335.3L182.6 335.1L183.6 334.4L184.6 334.5L185.6 333.9L186.6 334.0L187.6 333.2L188.6 333.7L189.6 333.5L190.6 332.9L191.6 332.7L192.6 332.6L193.6 332.4L194.6 331.8L195.6 332.5L196.6 331.7L197.6 331.5L198.6 331.4L199.6 331.4L200.6 331.9L201.6 331.2L202.6 331.3L203.6 331.8L204.6 331.4L205.6 331.4L206.6 332.0L207.6 332.1L208.6 332.1L209.6 332.4L210.6 332.0L211.6 332.9L212.6 332.9L213.6 332.5L214.6 332.7L215.6 333.2L216.6 333.4L217.6 333.3L218.6 333.4L219.6 333.8L220.6 333.7L221.6 334.2L222.6 334.5L223.6 334.0L224.6 334.5L225.6 334.7L226.6 334.2L227.6 334.8L228.6 334.9L229.6 334.3L230.6 334.2L231.6 334.5L232.6 334.0L233.6 333.7L234.6 334.0L235.6 333.6L236.6 333.0L237.6 332.6L238.6 332.4L239.6 332.2L240.6 332.4L241.6 331.9L242.6 331.7L243.6 331.3L244.6 330.9L245.6 329.9L246.6 329.7L247.6 329.5L248.6 328.6L249.6 327.1L250.6 326.3L251.6 325.5L252.6 324.3L253.6 323.5L254.6 322.1L255.6 321.7L256.6 321.0L257.6 320.0L258.6 319.8L259.6 320.4L260.6 320.5L261.6 321.3L262.6 321.9L263.6 323.0L264.6 324.1L265.6 325.0L266.6 324.8L267.6 325.7L268.6 325.2L269.6 325.1L270.6 324.1L271.6 323.6L272.6 323.1L273.6 322.1L274.6 321.0L275.6 320.6L276.6 319.7L277.6 319.4L278.6 318.1L279.6 317.5L280.6 317.4L281.6 316.9L282.6 317.8L283.6 319.0L284.6 319.8L285.6 320.9L286.6 322.4L287.6 324.0L288.6 325.5L289.6 327.6L290.6 329.9L291.6 332.2L292.6 334.3L293.6 335.9L294.6 337.7L295.6 339.4L296.6 341.6L297.6 343.4L298.6 344.6L299.6 345.7L300.6 346.6L301.6 347.0L302.6 348.2L303.6 348.7L304.6 349.3L305.6 349.9L306.6 350.2L307.6 350.3L308.6 350.5L309.6 350.6L310.6 351.1L311.6 351.1L312.6 351.5L313.6 351.1L314.6 351.6L315.6 352.1L316.6 351.6L317.6 351.9L318.6 351.8L319.6 351.6L320.6 352.1L321.6 351.3L322.6 351.6L323.6 350.9L324.6 350.7L325.6 351.2L326.6 350.7L327.6 350.1L328.6 350.2L329.6 350.1L330.6 350.1L331.6 349.4L332.6 349.2L333.6 349.7L334.6 349.3L335.6 348.5L336.6 348.4L337.6 348.2L338.6 348.2L339.6 347.9L340.6 347.9L341.6 347.6L342.6 347.1L343.6 347.0L344.6 346.7L345.6 346.4L346.6 345.7L347.6 345.6L348.6 345.2L349.6 344.9L350.6 343.8L351.6 344.0L352.6 342.8L353.6 343.1L354.6 342.5L355.6 342.0L356.6 342.0L357.6 341.3L358.6 340.8L359.6 340.8L360.6 340.6L361.6 340.1L362.6 339.7L363.6 339.5L364.6 339.4L365.6 339.5L366.6 339.1L367.6 339.2L368.6 339.4L369.6 339.3L370.6 339.4L371.6 339.9L372.6 340.2L373.6 340.0L374.6 340.2L375.6 340.1L376.6 340.4L377.6 340.5L378.6 341.1L379.6 341.2L380.6 341.0L381.6 341.9L382.6 341.4L383.6 342.0L384.6 342.1L385.6 342.3L386.6 341.7L387.6 342.0L388.6 342.5L389.6 341.8L390.6 341.9L391.6 342.4L392.6 342.4L393.6 342.8L394.6 342.8L395.6 342.6L396.6 343.1L397.6 342.7L398.6 342.7L399.6 342.9L400.6 342.6L401.6 342.4L402.6 342.5L403.6 342.1L404.6 342.4L405.6 341.8L406.6 341.4L407.6 340.7L408.6 340.5L409.6 340.2L410.6 339.8L411.6 339.1L412.6 338.3L413.6 337.3L414.6 335.6L415.6 334.4L416.6 333.6L417.6 333.0L418.6 331.6L419.6 331.0L420.6 330.6L421.6 329.4L422.6 329.1L423.6 329.5L424.6 329.4L425.6 329.7L426.6 330.5L427.6 332.6L428.6 333.9L429.6 335.6L430.6 337.5L431.6 339.3L432.6 341.0L433.6 342.9L434.6 345.1L435.6 347.3L436.6 349.1L437.6 350.5L438.6 351.9L439.6 353.5L440.6 354.8L441.6 355.8L442.6 357.5L443.6 358.3L444.6 358.8L445.6 360.0L446.6 361.2L447.6 361.4L448.6 362.3L449.6 362.0L450.6 362.5L451.6 363.1L452.6 363.0L453.6 363.2L454.6 362.9L455.6 363.3L456.6 363.5L457.6 363.4L458.6 363.8L459.6 363.8L460.6 364.3L461.6 364.0L462.6 364.0L463.6 363.8L464.6 363.9L465.6 364.5L466.6 364.0L467.6 364.0L468.6 364.1L469.6 364.4L470.6 364.7L471.6 364.5L472.6 364.7L473.6 364.1L474.6 364.0L475.6 364.7L476.6 364.3L477.6 364.7L478.6 364.4L479.6 364.2L480.6 364.3L481.6 364.2L482.6 364.9L483.6 364.6L484.6 364.4L485.6 364.5L486.6 364.5L487.6 364.2L488.6 364.9L489.6 364.7L490.6 365.0L491.6 364.6L492.6 364.7L493.6 364.4L494.6 364.2L495.6 365.1L496.6 365.0L497.6 364.5L498.6 365.1L499.6 365.0L500.6 364.6L501.6 364.9L502.6 365.2L503.6 364.9L504.6 365.3L505.6 364.7L506.6 364.9L507.6 365.2L508.6 364.8L509.6 364.9L510.6 365.5L511.6 365.2L512.6 365.5L513.6 365.1L514.6 365.1L515.6 365.3L516.6 365.2L517.6 366.0L518.6 365.4L519.6 365.7L520.6 365.4L521.6 365.8L522.6 365.7L523.6 365.8L524.6 365.6L525.6 365.7L526.6 366.4L527.6 366.0L528.6 366.0L529.6 366.0L530.6 366.2L531.6 366.2L532.6 366.1L533.6 366.7L534.6 366.5L535.6 366.4L536.5 367.0" fill="none" stroke="#a6123c" stroke-width="2.8" stroke-linejoin="round" stroke-linecap="round"/><path d="M44.6 368.5L45.6 368.8L46.6 369.4L47.6 368.9L48.6 369.3L49.6 369.7L50.6 369.8L51.6 369.3L52.6 369.6L53.6 370.0L54.6 369.7L55.6 370.3L56.6 369.7L57.6 370.4L58.6 370.0L59.6 369.8L60.6 370.0L61.6 369.7L62.6 370.3L63.6 369.9L64.6 370.4L65.6 370.1L66.6 369.9L67.6 369.8L68.6 370.1L69.6 369.7L70.6 370.3L71.6 369.6L72.6 369.9L73.6 369.8L74.6 369.5L75.6 369.9L76.6 369.5L77.6 369.7L78.6 369.5L79.6 369.2L80.6 369.2L81.6 368.8L82.6 368.8L83.6 369.3L84.6 368.8L85.6 369.0L86.6 368.3L87.6 368.5L88.6 368.1L89.6 368.0L90.6 367.5L91.6 367.0L92.6 366.8L93.6 366.3L94.6 365.8L95.6 365.9L96.6 365.1L97.6 364.7L98.6 364.6L99.6 363.9L100.6 363.2L101.6 362.3L102.6 360.8L103.6 359.9L104.6 358.7L105.6 358.3L106.6 357.4L107.6 356.3L108.6 355.5L109.6 354.8L110.6 354.0L111.6 352.8L112.6 352.5L113.6 351.4L114.6 351.1L115.6 350.4L116.6 350.3L117.6 351.1L118.6 351.2L119.6 351.7L120.6 351.7L121.6 352.3L122.6 353.1L123.6 353.9L124.6 354.8L125.6 355.8L126.6 356.5L127.6 357.9L128.6 359.3L129.6 360.0L130.6 361.8L131.6 362.6L132.6 363.8L133.6 364.3L134.6 365.2L135.6 366.1L136.6 366.5L137.6 366.8L138.6 368.2L139.6 368.8L140.6 368.9L141.6 369.2L142.6 370.4L143.6 370.5L144.6 370.4L145.6 370.8L146.6 370.8L147.6 371.5L148.6 371.1L149.6 371.9L150.6 371.8L151.6 371.3L152.6 372.0L153.6 371.8L154.6 372.2L155.6 372.3L156.6 371.9L157.6 371.8L158.6 372.6L159.6 372.1L160.6 372.6L161.6 372.4L162.6 372.4L163.6 372.4L164.6 372.2L165.6 372.0L166.6 371.5L167.6 372.0L168.6 371.6L169.6 371.6L170.6 371.8L171.6 370.9L172.6 371.3L173.6 370.5L174.6 370.9L175.6 370.8L176.6 370.1L177.6 370.2L178.6 370.3L179.6 369.8L180.6 369.5L181.6 369.0L182.6 368.6L183.6 368.7L184.6 368.5L185.6 368.0L186.6 367.8L187.6 367.4L188.6 367.5L189.6 367.2L190.6 366.4L191.6 366.1L192.6 366.0L193.6 365.7L194.6 365.8L195.6 365.0L196.6 364.7L197.6 365.0L198.6 364.2L199.6 364.4L200.6 364.1L201.6 364.5L202.6 364.3L203.6 364.6L204.6 364.1L205.6 364.7L206.6 364.9L207.6 364.9L208.6 365.5L209.6 365.8L210.6 365.4L211.6 365.9L212.6 366.2L213.6 366.4L214.6 366.6L215.6 367.1L216.6 367.3L217.6 368.0L218.6 368.0L219.6 367.9L220.6 368.3L221.6 368.6L222.6 368.7L223.6 368.6L224.6 368.5L225.6 368.5L226.6 369.3L227.6 369.0L228.6 368.3L229.6 368.7L230.6 368.7L231.6 368.1L232.6 367.5L233.6 367.5L234.6 367.2L235.6 366.6L236.6 366.6L237.6 365.8L238.6 366.2L239.6 365.6L240.6 365.1L241.6 365.0L242.6 364.3L243.6 363.4L244.6 362.7L245.6 361.9L246.6 361.0L247.6 360.8L248.6 360.1L249.6 358.8L250.6 358.0L251.6 357.7L252.6 357.1L253.6 356.4L254.6 355.0L255.6 354.8L256.6 354.3L257.6 353.7L258.6 353.0L259.6 352.7L260.6 353.7L261.6 354.1L262.6 355.3L263.6 356.7L264.6 357.7L265.6 359.0L266.6 359.0L267.6 358.7L268.6 358.6L269.6 357.9L270.6 357.1L271.6 355.9L272.6 355.0L273.6 354.1L274.6 352.8L275.6 352.0L276.6 350.9L277.6 350.3L278.6 349.9L279.6 348.9L280.6 349.2L281.6 349.0L282.6 350.2L283.6 352.1L284.6 353.0L285.6 354.7L286.6 357.0L287.6 359.2L288.6 362.3L289.6 364.3L290.6 367.5L291.6 369.6L292.6 371.1L293.6 372.4L294.6 373.7L295.6 375.4L296.6 376.5L297.6 377.4L298.6 378.2L299.6 379.0L300.6 380.0L301.6 380.8L302.6 381.6L303.6 381.5L304.6 382.2L305.6 382.8L306.6 383.3L307.6 383.5L308.6 383.5L309.6 383.6L310.6 384.0L311.6 384.3L312.6 384.9L313.6 385.0L314.6 385.1L315.6 385.3L316.6 385.3L317.6 385.0L318.6 385.1L319.6 384.4L320.6 384.8L321.6 384.6L322.6 384.2L323.6 384.3L324.6 384.5L325.6 383.9L326.6 383.9L327.6 383.4L328.6 383.2L329.6 383.5L330.6 382.5L331.6 382.4L332.6 382.6L333.6 382.2L334.6 381.6L335.6 381.9L336.6 381.4L337.6 381.3L338.6 380.9L339.6 380.8L340.6 380.6L341.6 380.2L342.6 379.6L343.6 379.4L344.6 379.7L345.6 379.0L346.6 378.2L347.6 378.4L348.6 377.4L349.6 376.8L350.6 376.7L351.6 376.0L352.6 375.8L353.6 375.3L354.6 374.6L355.6 374.5L356.6 373.6L357.6 373.6L358.6 373.3L359.6 372.5L360.6 372.5L361.6 371.9L362.6 372.0L363.6 372.3L364.6 371.9L365.6 372.0L366.6 372.1L367.6 371.6L368.6 372.5L369.6 372.5L370.6 372.2L371.6 373.2L372.6 373.1L373.6 373.2L374.6 374.3L375.6 374.3L376.6 374.8L377.6 374.6L378.6 375.5L379.6 375.1L380.6 375.5L381.6 375.8L382.6 375.7L383.6 376.5L384.6 376.4L385.6 376.7L386.6 377.3L387.6 377.2L388.6 377.8L389.6 377.7L390.6 378.1L391.6 377.9L392.6 378.3L393.6 378.3L394.6 377.7L395.6 378.1L396.6 377.6L397.6 377.7L398.6 377.4L399.6 377.1L400.6 376.1L401.6 375.9L402.6 375.7L403.6 375.4L404.6 374.7L405.6 373.6L406.6 373.5L407.6 372.6L408.6 372.5L409.6 372.2L410.6 371.1L411.6 371.2L412.6 370.4L413.6 369.4L414.6 368.7L415.6 368.3L416.6 367.9L417.6 367.0L418.6 365.7L419.6 364.6L420.6 363.6L421.6 363.3L422.6 362.0L423.6 362.0L424.6 362.0L425.6 363.1L426.6 364.0L427.6 365.1L428.6 367.2L429.6 368.5L430.6 370.8L431.6 373.4L432.6 376.3L433.6 378.1L434.6 380.9L435.6 382.8L436.6 384.7L437.6 386.6L438.6 388.0L439.6 388.7L440.6 390.1L441.6 391.8L442.6 392.7L443.6 393.3L444.6 394.1L445.6 394.2L446.6 395.2L447.6 395.1L448.6 395.9L449.6 396.0L450.6 395.8L451.6 396.3L452.6 396.5L453.6 397.3L454.6 397.2L455.6 396.9L456.6 397.1L457.6 397.4L458.6 397.6L459.6 397.7L460.6 397.6L461.6 397.7L462.6 397.4L463.6 398.0L464.6 397.8L465.6 397.6L466.6 398.1L467.6 398.6L468.6 397.9L469.6 398.0L470.6 398.5L471.6 398.2L472.6 398.3L473.6 398.5L474.6 398.4L475.6 398.7L476.6 398.7L477.6 399.1L478.6 399.1L479.6 398.3L480.6 398.8L481.6 398.9L482.6 399.0L483.6 398.9L484.6 398.8L485.6 398.8L486.6 398.5L487.6 398.4L488.6 398.8L489.6 398.9L490.6 398.9L491.6 398.6L492.6 398.2L493.6 398.6L494.6 398.6L495.6 398.3L496.6 398.4L497.6 398.1L498.6 398.2L499.6 398.1L500.6 397.7L501.6 398.0L502.6 397.9L503.6 398.5L504.6 398.0L505.6 397.9L506.6 397.8L507.6 397.8L508.6 397.9L509.6 397.7L510.6 397.6L511.6 398.4L512.6 398.0L513.6 398.1L514.6 398.2L515.6 398.0L516.6 398.0L517.6 397.9L518.6 398.2L519.6 398.3L520.6 398.8L521.6 398.7L522.6 399.2L523.6 398.7L524.6 399.4L525.6 399.2L526.6 398.8L527.6 399.0L528.6 399.5L529.6 400.0L530.6 399.6L531.6 400.0L532.6 399.9L533.6 400.4L534.6 399.8L535.6 400.3L536.5 400.8" fill="none" stroke="#1686d0" stroke-width="2.8" stroke-linejoin="round" stroke-linecap="round"/><text x="53.4" y="28.2" font-size="15.3" font-weight="bold" text-anchor="start" fill="#111" >Ce 4d</text><text x="221.2" y="23.8" font-size="15.3" font-weight="bold" text-anchor="start" fill="#111" >Si 2p</text><text x="333.2" y="25.6" font-size="15" font-weight="bold" text-anchor="start" fill="#111" >O 1s</text><text x="55.8" y="262.4" font-size="15" font-weight="bold" text-anchor="start" fill="#111" >Ce 3d</text><text x="1.2" y="13.4" font-size="15.5" font-weight="bold" text-anchor="start" fill="#111" >a)</text><text x="280.6" y="16.5" font-size="15.5" font-weight="bold" text-anchor="start" fill="#111" >b)</text><text x="4.2" y="241.6" font-size="15.5" font-weight="bold" text-anchor="start" fill="#111" >c)</text><text x="0" y="0" font-size="15.5" font-weight="bold" text-anchor="middle" fill="#111" transform="translate(33.3,88.5) rotate(-90)">Intensity (arb. un.)</text><text x="0" y="0" font-size="15.5" font-weight="bold" text-anchor="middle" fill="#111" transform="translate(314.2,88.9) rotate(-90)">Intensity (arb. un.)</text><text x="0" y="0" font-size="15.5" font-weight="bold" text-anchor="middle" fill="#111" transform="translate(33.3,324.3) rotate(-90)">Intensity (arb. un.)</text><text x="150" y="201.8" font-size="15.4" font-weight="bold" text-anchor="middle" fill="#111" >Binding Energy (eV)</text><text x="432" y="201.8" font-size="15.4" font-weight="bold" text-anchor="middle" fill="#111" >Binding Energy (eV)</text><text x="289" y="436.4" font-size="15.4" font-weight="bold" text-anchor="middle" fill="#111" >Binding Energy (eV)</text><text x="144.8" y="33.2" font-size="9.6" font-weight="bold" text-anchor="start" fill="#111" >H</text><text x="162" y="22.6" font-size="9.8" font-weight="bold" text-anchor="start" fill="#111" >G</text><text x="181.4" y="30.8" font-size="9.6" font-weight="bold" text-anchor="start" fill="#111" >E</text><text x="100.3" y="102.5" font-size="10" font-weight="bold" text-anchor="start" fill="#111" >W'''</text><text x="120.3" y="92.8" font-size="10" font-weight="bold" text-anchor="start" fill="#111" >X'''</text><text x="412.6" y="20.2" font-size="9.6" font-weight="bold" text-anchor="start" fill="#111" >A</text><text x="429" y="48.8" font-size="9.6" font-weight="bold" text-anchor="start" fill="#111" >B</text><text x="232.7" y="281" font-size="11" font-weight="bold" text-anchor="start" fill="#111" >U'</text><text x="271.4" y="290" font-size="11" font-weight="bold" text-anchor="start" fill="#111" >U<tspan font-size='9' font-weight='normal' dx='0.5' dy='5.5'>0</tspan></text><text x="388.4" y="274.5" font-size="11" font-weight="bold" text-anchor="start" fill="#111" >V'</text><text x="438.4" y="290.1" font-size="11" font-weight="bold" text-anchor="start" fill="#111" >V<tspan font-size='9' font-weight='normal' dx='0.5' dy='5.5'>0</tspan></text><text x="114.5" y="346.8" font-size="11" font-weight="bold" text-anchor="start" fill="#111" >U' ' '</text><text x="196.8" y="359.8" font-size="11" font-weight="bold" text-anchor="start" fill="#111" >U' '</text><text x="257" y="352.4" font-size="11" font-weight="bold" text-anchor="start" fill="#111" >U</text><text x="280.5" y="347.3" font-size="11" font-weight="bold" text-anchor="start" fill="#111" >V' ' '</text><text x="365.7" y="368.9" font-size="11" font-weight="bold" text-anchor="start" fill="#111" >V' '</text><text x="420.6" y="359" font-size="11" font-weight="bold" text-anchor="start" fill="#111" >V</text><rect x="396.1" y="346.8" width="2.7" height="7.2" fill="#a3185e"/><path d="M396.2 354 L398.8 354 L398.8 362.6 L403.3 361 L397.5 373.6 L391.7 361 L396.2 362.6 Z" fill="#1686d0"/>
</svg></body></html>
